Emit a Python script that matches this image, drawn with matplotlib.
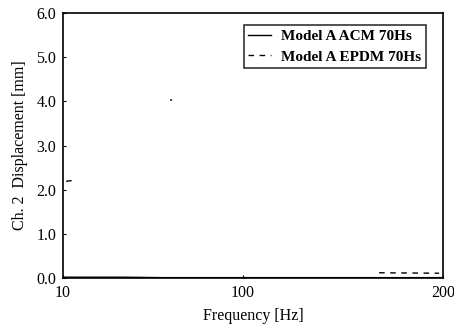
import numpy as np
import matplotlib
matplotlib.use("Agg")
import matplotlib.pyplot as plt

# values (most of the curves are faded out)
acm_freq = [10, 40, 60, 200]
acm_disp = [0.02, 0.02, 0.01, 0.01]
epdm_freq = [11.5, 16.5, np.nan, 63.5, 64.5, np.nan, 168, 198]
epdm_disp = [2.19, 2.22, np.nan, 4.03, 4.03, np.nan, 0.12, 0.11]

x_ticks = [10, 100, 200]
y_ticks = [0, 1, 2, 3, 4, 5, 6]

plt.rcParams['font.family'] = ['Liberation Serif', 'DejaVu Serif']

fig = plt.figure(figsize=(4.54, 3.26), dpi=100)
ax = fig.add_axes([0.139, 0.147, 0.837, 0.813])

ax.plot(acm_freq, acm_disp, color='black', lw=1.0, label='Model A ACM 70Hs')
ax.plot(epdm_freq, epdm_disp, color='black', lw=1.0, ls=(0, (4, 4)),
        label='Model A EPDM 70Hs')

ax.set_xlim(10, 200)
ax.set_ylim(0, 6)
ax.set_xticks(x_ticks)
ax.set_xticklabels([str(t) for t in x_ticks])
ax.set_yticks(y_ticks)
ax.set_yticklabels(['%.1f' % t for t in y_ticks])
ax.tick_params(direction='in', length=2, labelsize=11.5, pad=5)

for s in ax.spines.values():
    s.set_linewidth(1.2)

ax.set_xlabel('Frequency [Hz]', fontsize=11.5, labelpad=5)
ax.set_ylabel('Ch. 2  Displacement [mm]', fontsize=11.5, labelpad=6)

leg = ax.legend(loc='upper right', bbox_to_anchor=(0.975, 0.985),
                prop={'weight': 'bold', 'size': 11}, frameon=True,
                fancybox=False, edgecolor='black', handlelength=1.5,
                borderpad=0.3, labelspacing=0.45, handletextpad=0.65)
leg.get_frame().set_linewidth(1.2)

fig.savefig('out.png', dpi=100)
